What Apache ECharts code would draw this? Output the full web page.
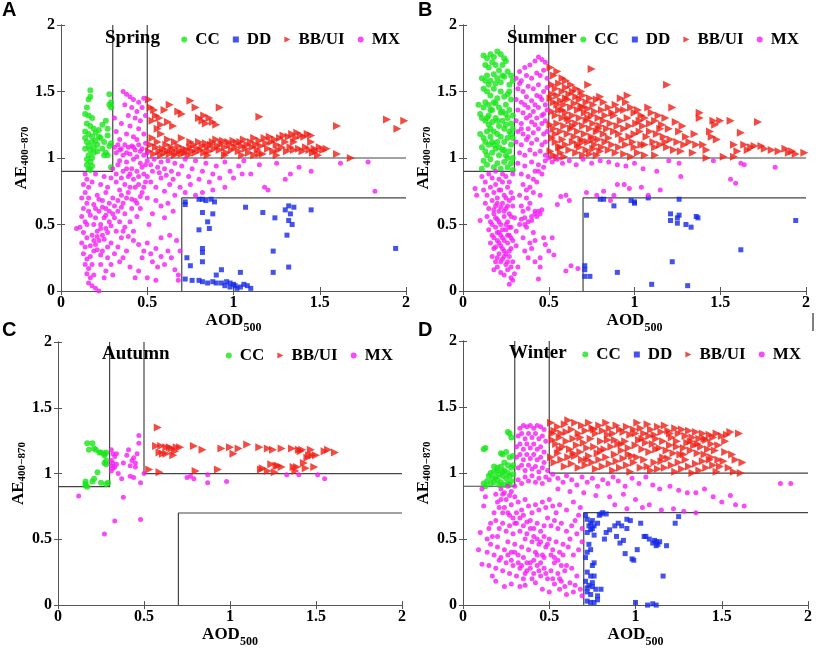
<!DOCTYPE html>
<html>
<head>
<meta charset="utf-8">
<script src="https://cdn.jsdelivr.net/npm/echarts@6/dist/echarts.min.js"></script>
<style>
  html, body { margin: 0; padding: 0; background: #fff; }
  #chart { width: 816px; height: 649px; }
</style>
</head>
<body>
<div id="chart"></div>
<script>
// -- Data: [AOD500, AE400-870] --
const springCC = [[0.17,1.51],[0.17,1.46],[0.16,1.44],[0.15,1.38],[0.14,1.33],[0.16,1.32],[0.18,1.30],[0.15,1.26],[0.17,1.24],[0.19,1.22],[0.14,1.20],[0.16,1.18],[0.18,1.16],[0.20,1.19],[0.22,1.21],[0.24,1.25],[0.26,1.28],[0.27,1.22],[0.28,1.40],[0.29,1.42],[0.28,1.48],[0.29,1.38],[0.27,1.17],[0.25,1.12],[0.23,1.15],[0.21,1.10],[0.19,1.08],[0.17,1.06],[0.15,1.12],[0.14,1.07],[0.16,1.02],[0.18,1.00],[0.17,0.97],[0.15,0.95],[0.16,0.92],[0.18,0.94],[0.19,1.04],[0.21,1.05],[0.24,1.07],[0.26,1.04],[0.28,1.09],[0.29,1.11],[0.27,1.02],[0.22,1.16],[0.20,1.13],[0.15,0.99],[0.14,1.15],[0.18,1.12],[0.16,1.09],[0.17,0.91],[0.25,1.02],[0.29,0.93]];
const springDD = [[0.72,0.67],[0.72,0.65],[0.8,0.69],[0.82,0.69],[0.84,0.68],[0.87,0.69],[0.89,0.67],[0.82,0.59],[0.88,0.58],[0.85,0.52],[0.8,0.46],[0.86,0.47],[1.07,0.63],[1.17,0.59],[1.24,0.55],[1.3,0.61],[1.32,0.64],[1.35,0.63],[1.33,0.58],[1.32,0.53],[1.34,0.5],[1.31,0.42],[1.45,0.61],[1.94,0.32],[0.82,0.32],[0.82,0.29],[0.73,0.25],[0.75,0.19],[0.82,0.22],[0.93,0.16],[0.9,0.12],[1.04,0.14],[1.23,0.3],[1.23,0.14],[1.32,0.18],[0.72,0.09],[0.76,0.08],[0.8,0.08],[0.82,0.07],[0.85,0.06],[0.88,0.07],[0.9,0.06],[0.93,0.06],[0.96,0.07],[0.98,0.06],[1.0,0.05],[0.98,0.03],[1.02,0.02],[1.04,0.03],[1.06,0.05],[1.08,0.04],[1.1,0.02],[1.01,0.04],[0.95,0.04]];
const springBB = [[0.51,1.44],[0.52,1.38],[0.54,1.36],[0.55,1.32],[0.53,1.28],[0.57,1.3],[0.6,1.36],[0.63,1.4],[0.58,1.25],[0.62,1.27],[0.56,1.22],[0.65,1.24],[0.68,1.35],[0.7,1.33],[0.75,1.43],[0.78,1.38],[0.8,1.3],[0.82,1.28],[0.84,1.26],[0.86,1.3],[0.88,1.27],[0.9,1.25],[0.92,1.38],[0.83,1.32],[1.15,1.31],[1.6,1.24],[1.89,1.29],[1.95,1.22],[1.99,1.28],
  [0.51,1.05],[0.52,1.1],[0.53,1.15],[0.54,1.03],[0.55,1.08],[0.56,1.12],[0.57,1.05],[0.58,1.02],[0.59,1.07],[0.6,1.04],[0.61,1.1],[0.62,1.05],[0.63,1.03],[0.64,1.08],[0.65,1.06],[0.66,1.02],[0.67,1.04],[0.68,1.09],[0.69,1.05],[0.7,1.03],[0.71,1.07],[0.72,1.04],[0.73,1.06],[0.74,1.02],[0.75,1.08],[0.76,1.05],[0.77,1.1],[0.78,1.04],[0.79,1.07],[0.8,1.12],[0.81,1.06],[0.82,1.09],[0.83,1.04],[0.84,1.11],[0.85,1.08],[0.86,1.05],[0.87,1.1],[0.88,1.12],[0.89,1.07],[0.9,1.14],[0.91,1.09],[0.92,1.06],[0.93,1.11],[0.94,1.13],[0.95,1.08],[0.96,1.04],[0.97,1.12],[0.98,1.1],[0.99,1.06],[1.0,1.13],[1.01,1.08],[1.02,1.11],[1.03,1.05],[1.04,1.12],[1.05,1.09],[1.06,1.14],[1.07,1.07],[1.08,1.1],[1.09,1.04],[1.1,1.12],[1.11,1.08],[1.12,1.15],[1.13,1.1],[1.14,1.06],[1.15,1.13],[1.16,1.09],[1.17,1.03],[1.18,1.15],[1.19,1.11],[1.2,1.07],[1.21,1.16],[1.22,1.12],[1.23,1.05],[1.24,1.14],[1.25,1.1],[1.26,1.06],[1.27,1.15],[1.28,1.08],[1.29,1.17],[1.3,1.12],[1.31,1.05],[1.32,1.16],[1.33,1.08],[1.34,1.18],[1.35,1.06],[1.36,1.15],[1.37,1.19],[1.38,1.07],[1.39,1.17],[1.4,1.05],[1.41,1.16],[1.42,1.08],[1.43,1.18],[1.44,1.06],[1.45,1.17],[1.46,1.04],[1.47,1.07],[1.48,1.05],[1.5,1.08],[1.52,1.06],[1.54,1.07],[1.49,1.02],[1.6,1.03],[1.68,1.0],[0.7,1.15],[0.75,1.12],[0.62,1.14],[0.58,1.18],[0.66,1.12],[1.35,1.12],[1.25,1.02],[1.15,1.03],[1.05,1.02],[0.95,1.02],[0.85,1.02],[1.45,1.12],[1.12,1.02]];
const springMX = [[0.14,0.88],[0.15,0.84],[0.13,0.8],[0.16,0.78],[0.14,0.74],[0.12,0.7],[0.15,0.66],[0.13,0.62],[0.16,0.6],[0.12,0.56],[0.14,0.52],[0.11,0.48],[0.09,0.47],[0.13,0.44],[0.15,0.4],[0.12,0.36],[0.14,0.33],[0.13,0.28],[0.15,0.24],[0.14,0.2],[0.16,0.17],[0.15,0.13],[0.17,0.1],[0.16,0.06],[0.18,0.04],[0.2,0.02],[0.22,0.0],[0.19,0.12],[0.18,0.2],[0.17,0.26],[0.19,0.3],
  [0.2,0.35],[0.22,0.38],[0.18,0.42],[0.21,0.45],[0.24,0.42],[0.19,0.5],[0.23,0.5],[0.26,0.47],[0.2,0.55],[0.25,0.55],[0.28,0.52],[0.22,0.6],[0.26,0.62],[0.3,0.58],[0.19,0.65],[0.24,0.68],[0.28,0.66],[0.21,0.72],[0.26,0.74],[0.3,0.7],[0.18,0.82],[0.23,0.8],[0.27,0.78],[0.2,0.88],[0.25,0.86],[0.29,0.85],[0.32,0.82],[0.34,0.76],[0.31,0.64],[0.33,0.6],[0.36,0.66],[0.35,0.72],[0.38,0.7],[0.37,0.8],[0.4,0.78],[0.39,0.86],[0.42,0.84],[0.44,0.9],[0.41,0.92],[0.36,0.9],[0.33,0.95],[0.3,0.92],
  [0.24,0.3],[0.27,0.25],[0.23,0.2],[0.26,0.15],[0.29,0.2],[0.31,0.28],[0.34,0.22],[0.3,0.12],[0.25,0.1],[0.33,0.33],[0.36,0.25],[0.38,0.3],[0.35,0.4],[0.32,0.45],[0.37,0.48],[0.4,0.52],[0.42,0.45],[0.44,0.56],[0.46,0.62],[0.43,0.68],[0.47,0.74],[0.49,0.82],[0.45,0.8],[0.48,0.88],
  [0.42,0.38],[0.45,0.35],[0.48,0.3],[0.5,0.36],[0.47,0.25],[0.52,0.28],[0.55,0.32],[0.53,0.22],[0.58,0.26],[0.56,0.18],[0.6,0.2],[0.62,0.3],[0.64,0.25],[0.66,0.16],[0.68,0.12],[0.69,0.3],[0.67,0.38],[0.63,0.42],[0.58,0.4],[0.45,0.15],[0.4,0.18],[0.43,0.1],[0.5,0.1],[0.55,0.08],[0.68,0.08],
  [0.31,1.08],[0.33,1.1],[0.35,1.07],[0.37,1.1],[0.39,1.08],[0.41,1.09],[0.43,1.06],[0.45,1.1],[0.47,1.07],[0.49,1.11],[0.32,1.04],[0.36,1.02],[0.4,1.03],[0.44,1.01],[0.48,1.02],[0.34,0.98],[0.38,0.97],[0.42,0.99],[0.46,0.96],[0.5,0.98],[0.52,0.95],[0.54,0.99],[0.56,0.93],[0.58,0.97],[0.6,0.92],[0.62,0.98],[0.64,0.9],[0.66,0.96],[0.68,0.88],[0.7,0.94],[0.72,0.99],[0.74,0.86],[0.76,0.92],[0.78,0.98],[0.8,0.84],[0.82,0.9],[0.84,0.96],[0.86,0.82],[0.88,0.88],[0.9,0.94],[0.92,0.85],[0.95,0.97],[0.98,0.9],[1.0,0.85],[1.03,0.94],[1.06,0.98],
  [0.52,0.82],[0.55,0.78],[0.58,0.85],[0.6,0.75],[0.63,0.8],[0.66,0.72],[0.69,0.78],[0.72,0.74],[0.75,0.8],[0.78,0.72],[0.55,0.68],[0.58,0.64],[0.62,0.66],[0.65,0.6],[0.5,0.7],[0.53,0.58],[0.6,0.55],[0.51,0.5],
  [0.36,1.5],[0.38,1.48],[0.4,1.46],[0.42,1.44],[0.45,1.42],[0.48,1.45],[0.37,1.4],[0.41,1.38],[0.44,1.35],[0.47,1.38],[0.39,1.32],[0.43,1.3],[0.46,1.28],[0.49,1.32],[0.35,1.26],[0.4,1.24],[0.45,1.22],[0.32,1.2],[0.38,1.18],[0.42,1.16],[0.48,1.18],[0.34,1.14],[0.44,1.14],[0.31,1.3],
  [1.1,0.88],[1.15,0.95],[1.18,0.78],[1.2,0.76],[1.25,0.96],[1.3,0.84],[1.33,0.88],[1.38,0.93],[1.45,0.9],[1.62,0.96],[1.78,0.97],[1.82,0.75],[0.95,0.78],[1.05,0.88],[0.88,0.76],[0.82,0.74],
  [0.21,0.41],[0.23,0.47],[0.25,0.39],[0.27,0.44],[0.29,0.49],[0.31,0.55],[0.33,0.68],[0.35,0.63],[0.37,0.58],[0.39,0.74],[0.41,0.69],[0.43,0.78],[0.45,0.86],[0.47,0.93],[0.49,0.95],[0.38,0.92],[0.4,0.88],[0.35,0.85],[0.32,0.88],[0.28,0.6],[0.26,0.57],[0.24,0.63],[0.22,0.69],[0.2,0.62],[0.17,0.57],[0.19,0.38],[0.21,0.31],[0.23,0.27],[0.27,0.33],[0.29,0.36],[0.34,0.52],[0.36,0.45],[0.39,0.41],[0.41,0.62],[0.44,0.66],[0.46,0.71],[0.48,0.78],[0.5,0.86],[0.53,0.9],[0.57,0.89],[0.61,0.87],[0.65,0.84],[0.34,1.06],[0.38,1.04],[0.42,1.08],[0.46,1.05],[0.5,1.04],[0.16,0.7],[0.15,0.5],[0.17,0.34]];

const summerCC = [[0.12,1.77],[0.14,1.75],[0.16,1.78],[0.18,1.76],[0.2,1.8],[0.22,1.78],[0.24,1.75],[0.25,1.73],[0.13,1.7],[0.15,1.68],[0.17,1.72],[0.19,1.7],[0.21,1.66],[0.23,1.7],[0.26,1.65],[0.28,1.62],[0.29,1.58],[0.11,1.6],[0.14,1.62],[0.16,1.58],[0.18,1.63],[0.2,1.6],[0.22,1.57],[0.24,1.61],[0.27,1.55],[0.09,1.4],[0.1,1.33],[0.12,1.52],[0.14,1.5],[0.16,1.47],[0.18,1.52],[0.2,1.45],[0.22,1.5],[0.24,1.46],[0.26,1.48],[0.28,1.44],[0.13,1.42],[0.15,1.4],[0.17,1.36],[0.19,1.41],[0.21,1.38],[0.23,1.35],[0.25,1.4],[0.27,1.36],[0.29,1.32],[0.11,1.3],[0.13,1.28],[0.15,1.32],[0.17,1.27],[0.19,1.3],[0.21,1.24],[0.23,1.28],[0.25,1.25],[0.27,1.2],[0.29,1.22],[0.1,1.18],[0.12,1.15],[0.14,1.2],[0.16,1.16],[0.18,1.2],[0.2,1.12],[0.22,1.16],[0.24,1.12],[0.26,1.15],[0.28,1.1],[0.11,1.08],[0.13,1.05],[0.15,1.1],[0.17,1.04],[0.19,1.07],[0.21,1.02],[0.23,1.06],[0.25,1.02],[0.27,1.05],[0.29,1.0],[0.12,0.98],[0.14,0.95],[0.16,0.99],[0.18,0.93],[0.2,0.96],[0.22,0.92],[0.24,0.97],[0.26,0.93],[0.28,0.96],[0.11,0.92],[0.29,0.91],[0.15,1.25],[0.25,1.33],[0.27,1.5],[0.12,1.38],[0.18,1.1],[0.29,1.15],[0.13,1.12],
  [0.14,1.3],[0.16,1.36],[0.18,1.42],[0.2,1.28],[0.22,1.34],[0.24,1.22],[0.26,1.3],[0.28,1.26],[0.13,1.58],[0.15,1.55],[0.19,1.56],[0.23,1.62],[0.16,1.22],[0.2,1.18],[0.24,1.06],[0.28,1.18],[0.14,1.02],[0.26,1.0],[0.17,1.12],[0.21,1.08]];
const summerDD = [[0.72,0.57],[0.8,0.69],[0.82,0.69],[0.88,0.64],[0.98,0.68],[1.0,0.67],[1.0,0.66],[1.08,0.7],[1.26,0.69],[1.21,0.58],[1.21,0.53],[1.25,0.55],[1.26,0.57],[1.25,0.51],[1.3,0.5],[1.33,0.48],[1.36,0.56],[1.37,0.55],[1.94,0.53],[1.62,0.31],[1.22,0.22],[0.71,0.19],[0.71,0.16],[0.71,0.11],[0.74,0.11],[0.9,0.14],[1.1,0.05],[1.31,0.04]];
const summerBB = [[0.51,1.68],[0.53,1.62],[0.55,1.65],[0.58,1.6],[0.6,1.58],[0.52,1.55],[0.54,1.52],[0.56,1.56],[0.58,1.5],[0.6,1.53],[0.62,1.48],[0.64,1.5],[0.66,1.46],[0.68,1.44],[0.7,1.47],[0.72,1.42],[0.74,1.45],[0.76,1.4],[0.78,1.44],[0.8,1.46],[0.82,1.42],[0.73,1.55],[0.75,1.67],[0.51,1.45],[0.53,1.42],[0.55,1.47],[0.57,1.43],[0.59,1.4],[0.61,1.44],[0.63,1.38],[0.65,1.41],[0.67,1.36],[0.69,1.39],[0.71,1.34],[0.73,1.37],[0.75,1.32],[0.77,1.35],[0.79,1.3],[0.81,1.36],[0.83,1.32],[0.85,1.38],[0.87,1.34],[0.89,1.4],[0.91,1.36],[0.52,1.35],[0.54,1.32],[0.56,1.36],[0.58,1.3],[0.6,1.34],[0.62,1.28],[0.64,1.32],[0.66,1.26],[0.68,1.3],[0.7,1.24],[0.72,1.28],[0.74,1.22],[0.76,1.26],[0.78,1.2],[0.8,1.24],[0.82,1.18],[0.84,1.22],[0.86,1.26],[0.88,1.2],[0.9,1.24],[0.92,1.28],[0.94,1.22],[0.96,1.3],[0.51,1.25],[0.53,1.22],[0.55,1.26],[0.57,1.2],[0.59,1.24],[0.61,1.18],[0.63,1.22],[0.65,1.16],[0.67,1.2],[0.69,1.14],[0.71,1.18],[0.73,1.12],[0.75,1.16],[0.77,1.1],[0.79,1.14],[0.81,1.08],[0.83,1.12],[0.85,1.06],[0.87,1.1],[0.89,1.04],[0.91,1.08],[0.93,1.14],[0.95,1.1],[0.97,1.16],[0.99,1.12],[0.52,1.15],[0.54,1.12],[0.56,1.08],[0.58,1.14],[0.6,1.1],[0.62,1.06],[0.64,1.12],[0.66,1.04],[0.68,1.08],[0.7,1.02],[0.72,1.06],[0.74,1.03],[0.76,1.07],[0.78,1.02],[0.8,1.05],[0.51,1.05],[0.53,1.02],[0.55,1.0],[0.57,1.04],[0.59,1.01],
  [0.92,1.45],[0.95,1.42],[0.98,1.38],[1.0,1.34],[1.02,1.36],[1.04,1.32],[1.06,1.3],[1.08,1.38],[1.1,1.34],[1.12,1.28],[1.14,1.32],[1.16,1.25],[1.18,1.3],[1.2,1.22],[1.22,1.38],[1.24,1.27],[1.26,1.2],[1.28,1.24],[1.19,1.55],[0.96,1.47],[1.01,1.26],[1.03,1.2],[1.05,1.24],[1.07,1.16],[1.09,1.2],[1.11,1.12],[1.13,1.18],[1.15,1.1],[1.17,1.16],[1.19,1.08],[1.21,1.14],[1.23,1.06],[1.25,1.12],[1.27,1.05],[1.29,1.1],[1.0,1.08],[1.02,1.04],[1.04,1.1],[1.06,1.02],[0.94,1.03],[0.98,1.01],[1.12,1.02],[1.3,1.16],
  [1.32,1.12],[1.34,1.04],[1.36,1.1],[1.38,1.34],[1.38,1.3],[1.4,1.1],[1.42,1.06],[1.44,1.2],[1.46,1.28],[1.47,1.25],[1.5,1.28],[1.45,1.16],[1.48,1.14],[1.52,1.01],[1.56,1.28],[1.58,1.1],[1.6,1.05],[1.62,1.19],[1.64,1.1],[1.66,1.06],[1.68,1.08],[1.72,1.27],[1.74,1.09],[1.76,1.07],[1.8,1.06],[1.84,1.05],[1.88,1.07],[1.9,1.04],[1.92,1.05],[1.94,1.03],[1.99,1.04],[1.58,1.01],[1.7,1.09],[1.35,1.18],[1.42,1.0],
  [0.52,1.48],[0.55,1.4],[0.58,1.36],[0.61,1.3],[0.64,1.24],[0.67,1.1],[0.7,1.38],[0.73,1.3],[0.76,1.14],[0.79,1.22],[0.82,1.28],[0.85,1.15],[0.88,1.32],[0.91,1.18],[0.94,1.36],[0.97,1.24],[1.0,1.18],[1.03,1.28],[1.06,1.1],[1.09,1.26],[1.12,1.08],[1.15,1.22],[1.18,1.12],[0.54,1.18],[0.57,1.08],[0.6,1.45],[0.63,1.55],[0.66,1.52],[0.69,1.5],[0.7,1.12]];
const summerMX = [[0.33,1.65],[0.36,1.68],[0.39,1.7],[0.42,1.73],[0.44,1.76],[0.46,1.74],[0.48,1.72],[0.31,1.6],[0.34,1.58],[0.37,1.62],[0.4,1.6],[0.43,1.64],[0.45,1.62],[0.47,1.66],[0.49,1.6],[0.32,1.52],[0.35,1.5],[0.38,1.54],[0.41,1.52],[0.44,1.55],[0.47,1.5],[0.49,1.53],[0.31,1.44],[0.34,1.42],[0.37,1.46],[0.4,1.43],[0.43,1.47],[0.46,1.44],[0.48,1.4],[0.32,1.36],[0.35,1.34],[0.38,1.38],[0.41,1.35],[0.44,1.38],[0.47,1.33],[0.49,1.36],[0.31,1.28],[0.34,1.26],[0.37,1.3],[0.4,1.27],[0.43,1.3],[0.46,1.26],[0.48,1.28],[0.32,1.2],[0.35,1.18],[0.38,1.22],[0.41,1.19],[0.44,1.22],[0.47,1.18],[0.49,1.2],[0.31,1.12],[0.34,1.1],[0.37,1.14],[0.4,1.11],[0.43,1.14],[0.46,1.1],[0.48,1.12],[0.33,1.04],[0.36,1.02],[0.39,1.06],[0.42,1.03],[0.45,1.05],[0.48,1.02],[0.5,1.0],
  [0.32,0.96],[0.36,0.94],[0.4,0.97],[0.44,0.95],[0.48,0.98],[0.52,0.97],[0.55,0.99],[0.58,0.96],[0.62,0.98],[0.66,0.95],[0.7,0.99],[0.75,0.96],[0.8,0.98],[0.85,0.97],[0.9,0.95],[0.95,0.94],[0.34,0.88],[0.38,0.86],[0.42,0.9],[0.46,0.88],[0.35,0.8],[0.39,0.78],[0.43,0.82],[0.33,0.72],[0.37,0.7],[0.41,0.74],[0.45,0.72],[0.34,0.64],[0.38,0.62],[0.42,0.6],[0.45,0.58],[0.36,0.55],[0.4,0.53],[0.43,0.56],[0.33,0.5],[0.37,0.48],[0.41,0.44],[0.35,0.4],[0.39,0.36],[0.42,0.38],[0.36,0.3],[0.4,0.32],[0.38,0.25],[0.42,0.22],[0.45,0.18],[0.44,0.09],[0.47,0.4],[0.48,0.35],[0.45,0.25],
  [0.07,0.77],[0.08,0.72],[0.1,0.53],[0.11,0.86],[0.13,0.82],[0.15,0.88],[0.17,0.85],[0.19,0.9],[0.21,0.84],[0.23,0.88],[0.25,0.86],[0.27,0.82],[0.29,0.88],[0.12,0.76],[0.14,0.72],[0.16,0.78],[0.18,0.74],[0.2,0.7],[0.22,0.76],[0.24,0.72],[0.26,0.78],[0.28,0.74],[0.13,0.66],[0.15,0.62],[0.17,0.68],[0.19,0.64],[0.21,0.6],[0.23,0.66],[0.25,0.62],[0.27,0.58],[0.29,0.64],[0.14,0.56],[0.16,0.52],[0.18,0.58],[0.2,0.54],[0.22,0.5],[0.24,0.56],[0.26,0.52],[0.28,0.48],[0.3,0.55],[0.15,0.46],[0.17,0.42],[0.19,0.48],[0.21,0.44],[0.23,0.4],[0.25,0.46],[0.27,0.42],[0.29,0.38],[0.16,0.36],[0.18,0.32],[0.2,0.38],[0.22,0.34],[0.24,0.3],[0.26,0.36],[0.28,0.32],[0.17,0.26],[0.19,0.22],[0.21,0.28],[0.23,0.24],[0.25,0.2],[0.27,0.26],[0.29,0.22],[0.18,0.16],[0.2,0.18],[0.22,0.14],[0.24,0.12],[0.26,0.16],[0.28,0.1],[0.3,0.13],[0.27,0.05],[0.29,0.08],[0.32,0.18],[0.31,0.34],[0.31,0.45],
  [0.57,0.71],[0.6,0.72],[0.55,0.65],[0.62,0.68],[0.52,0.4],[0.5,0.3],[0.53,0.27],[0.6,0.15],[0.63,0.19],[0.67,0.17],[0.72,0.74],[0.78,0.72],[0.82,0.75],[0.9,0.8],[0.94,0.8],[0.88,0.72],[0.86,0.68],[0.97,0.77],[1.04,0.78],[1.08,0.72],[1.15,0.76],[1.05,0.92],[1.13,0.9],[1.27,0.86],[1.26,0.96],[1.46,0.98],[1.56,0.84],[1.59,0.81],[1.62,0.96],[1.64,0.95],[1.82,0.93],[1.0,0.96],[1.2,0.98],
  [0.19,0.8],[0.21,0.76],[0.23,0.82],[0.25,0.7],[0.27,0.68],[0.29,0.7],[0.18,0.61],[0.2,0.66],[0.22,0.63],[0.24,0.6],[0.26,0.64],[0.28,0.56],[0.17,0.5],[0.19,0.55],[0.21,0.52],[0.23,0.46],[0.25,0.5],[0.27,0.48],[0.18,0.4],[0.2,0.44],[0.22,0.42],[0.24,0.38],[0.26,0.42],[0.28,0.4],[0.19,0.33],[0.21,0.36],[0.23,0.32],[0.25,0.28],[0.27,0.3],[0.2,0.25],[0.22,0.22],[0.24,0.26],[0.26,0.22],[0.28,0.18],[0.34,0.54],[0.36,0.5],[0.38,0.52],[0.4,0.56],[0.42,0.58],[0.44,0.6],[0.46,0.61],[0.35,0.6],[0.39,0.66],[0.37,0.76],[0.41,0.84],[0.44,0.9],[0.47,0.93],[0.33,1.56],[0.36,1.4],[0.39,1.32],[0.42,1.4],[0.45,1.46],[0.34,1.22],[0.38,1.16],[0.42,1.25],[0.46,1.32]];

const autumnCC = [[0.17,1.23],[0.2,1.23],[0.18,1.18],[0.21,1.19],[0.22,1.18],[0.24,1.16],[0.25,1.16],[0.27,1.15],[0.28,1.16],[0.27,1.14],[0.28,1.1],[0.27,1.08],[0.28,1.07],[0.23,1.01],[0.16,0.94],[0.16,0.92],[0.2,0.94],[0.21,0.96],[0.25,0.93],[0.28,0.92],[0.29,0.93],[0.16,0.91],[0.17,0.9]];
const autumnBB = [[0.58,1.35],[0.53,1.03],[0.57,1.21],[0.6,1.21],[0.59,1.16],[0.61,1.15],[0.63,1.15],[0.63,1.2],[0.65,1.2],[0.66,1.19],[0.67,1.14],[0.68,1.17],[0.69,1.2],[0.71,1.2],[0.59,1.01],[0.79,1.21],[0.8,1.02],[0.84,1.18],[0.93,1.03],[0.95,1.19],[1.0,1.2],[1.02,1.15],[1.05,1.19],[1.1,1.22],[1.17,1.2],[1.18,1.03],[1.19,1.04],[1.22,1.02],[1.22,1.19],[1.24,1.07],[1.25,1.18],[1.27,1.06],[1.26,1.01],[1.28,1.06],[1.3,1.05],[1.3,1.19],[1.36,1.19],[1.37,1.05],[1.38,1.02],[1.39,1.05],[1.4,1.18],[1.41,1.17],[1.42,1.18],[1.43,1.08],[1.44,1.04],[1.45,1.12],[1.46,1.14],[1.47,1.18],[1.48,1.14],[1.49,1.05],[1.5,1.14],[1.55,1.17],[1.57,1.18],[1.61,1.16]];
const autumnMX = [[0.12,0.83],[0.27,0.54],[0.33,0.64],[0.48,0.65],[0.38,0.82],[0.31,1.18],[0.32,1.15],[0.33,1.13],[0.31,1.1],[0.32,1.08],[0.31,1.06],[0.32,1.04],[0.33,1.05],[0.34,1.07],[0.31,1.02],[0.34,1.15],[0.35,1.0],[0.37,0.96],[0.38,1.08],[0.4,1.14],[0.41,1.18],[0.42,1.06],[0.43,1.1],[0.44,1.12],[0.45,1.05],[0.45,1.08],[0.46,1.15],[0.47,1.23],[0.47,1.29],[0.48,0.93],[0.42,0.98],[0.44,0.97],[0.5,1.0],[0.75,0.97],[0.77,0.98],[0.79,0.96],[0.87,0.99],[0.87,0.93],[0.98,0.94],[1.33,0.99],[1.4,0.99],[1.51,0.99],[1.55,0.96]];

const winterCC = [[0.12,1.18],[0.13,1.19],[0.26,1.31],[0.27,1.3],[0.28,1.27],[0.22,1.15],[0.23,1.14],[0.25,1.16],[0.27,1.12],[0.29,1.13],[0.24,1.08],[0.26,1.06],[0.28,1.04],[0.22,1.05],[0.2,1.02],[0.18,1.01],[0.16,1.0],[0.15,0.98],[0.17,0.96],[0.19,0.97],[0.21,0.99],[0.23,0.98],[0.25,0.96],[0.27,0.98],[0.29,0.99],[0.14,0.94],[0.16,0.92],[0.18,0.93],[0.2,0.95],[0.22,0.93],[0.24,0.91],[0.26,0.92],[0.28,0.94],[0.12,0.92],[0.13,0.9],[0.2,1.04],[0.24,1.02],[0.29,1.06],[0.18,1.05],[0.21,0.91],[0.27,0.91],[0.23,1.01],[0.26,1.0]];
const winterDD = [[0.71,0.68],[0.72,0.65],[0.73,0.6],[0.74,0.62],[0.75,0.64],[0.76,0.6],[0.78,0.62],[0.8,0.69],[0.81,0.7],[0.79,0.68],[0.83,0.69],[0.72,0.55],[0.74,0.57],[0.76,0.53],[0.75,0.58],[0.73,0.46],[0.72,0.4],[0.74,0.42],[0.71,0.36],[0.75,0.3],[0.76,0.32],[0.72,0.25],[0.74,0.22],[0.76,0.22],[0.71,0.18],[0.73,0.15],[0.75,0.14],[0.77,0.12],[0.8,0.12],[0.72,0.1],[0.74,0.08],[0.78,0.07],[0.72,0.03],[0.74,0.02],[0.76,0.02],[0.78,0.04],[0.75,0.17],[0.72,0.13],[0.82,0.5],[0.83,0.55],[0.85,0.57],[0.88,0.6],[0.9,0.62],[0.92,0.6],[0.91,0.47],[0.93,0.49],[0.94,0.39],[0.95,0.65],[0.97,0.64],[0.98,0.35],[0.99,0.34],[1.01,0.42],[1.03,0.62],[1.05,0.52],[1.06,0.52],[1.08,0.5],[1.1,0.47],[1.11,0.49],[1.12,0.48],[1.13,0.46],[1.14,0.48],[1.12,0.45],[1.16,0.22],[1.18,0.45],[1.23,0.62],[1.25,0.67],[1.0,0.02],[1.07,0.0],[1.1,0.01],[1.12,0.0],[0.89,0.52],[0.95,0.58]];
const winterBB = [[0.51,1.38],[0.53,1.32],[0.55,1.35],[0.57,1.3],[0.59,1.37],[0.61,1.4],[0.63,1.33],[0.65,1.38],[0.67,1.3],[0.69,1.36],[0.71,1.32],[0.73,1.38],[0.75,1.34],[0.77,1.3],[0.79,1.36],[0.81,1.32],[0.83,1.38],[0.85,1.34],[0.87,1.3],[0.89,1.36],[0.91,1.33],[0.93,1.31],[0.95,1.35],[0.97,1.29],[0.99,1.33],[1.01,1.38],[1.03,1.34],[1.05,1.3],[1.07,1.37],[1.09,1.33],[1.11,1.29],[1.13,1.35],[1.15,1.31],[1.17,1.36],[1.19,1.32],[1.21,1.27],[1.23,1.34],[1.25,1.3],[1.27,1.33],[1.29,1.28],[1.31,1.32],[1.33,1.27],[1.35,1.31],[1.37,1.26],[1.39,1.3],[1.41,1.25],[1.43,1.29],[1.45,1.27],[1.47,1.3],[1.5,1.28],[1.53,1.29],[1.55,1.31],[1.6,1.3],
  [0.52,1.25],[0.54,1.22],[0.56,1.27],[0.58,1.2],[0.6,1.24],[0.62,1.18],[0.64,1.26],[0.66,1.21],[0.68,1.16],[0.7,1.23],[0.72,1.19],[0.74,1.26],[0.76,1.2],[0.78,1.15],[0.8,1.24],[0.82,1.18],[0.84,1.25],[0.86,1.2],[0.88,1.14],[0.9,1.22],[0.92,1.17],[0.94,1.24],[0.96,1.19],[0.98,1.13],[1.0,1.21],[1.02,1.25],[1.04,1.18],[1.06,1.23],[1.08,1.16],[1.1,1.22],[1.12,1.26],[1.14,1.19],[1.16,1.24],[1.18,1.17],[1.2,1.21],[1.22,1.15],[1.24,1.2],[1.26,1.14],[1.28,1.19],[1.3,1.23],[1.32,1.17],[1.34,1.21],[1.36,1.15],[1.38,1.2],[1.4,1.14],[1.42,1.18],[1.44,1.12],[1.46,1.17],[1.48,1.21],[1.52,1.16],[1.56,1.14],[1.58,1.1],
  [0.51,1.12],[0.53,1.08],[0.55,1.15],[0.57,1.1],[0.59,1.05],[0.61,1.12],[0.63,1.07],[0.65,1.13],[0.67,1.04],[0.69,1.1],[0.71,1.06],[0.73,1.13],[0.75,1.08],[0.77,1.03],[0.79,1.1],[0.81,1.05],[0.83,1.12],[0.85,1.07],[0.87,1.02],[0.89,1.09],[0.91,1.04],[0.93,1.11],[0.95,1.06],[0.97,1.01],[0.99,1.08],[1.01,1.12],[1.03,1.04],[1.05,1.1],[1.07,1.05],[1.09,1.02],[1.11,1.08],[1.13,1.03],[1.15,1.09],[1.17,1.04],[1.19,1.11],[1.21,1.06],[1.23,1.01],[1.25,1.08],[1.27,1.03],[1.29,1.1],[1.31,1.05],[1.33,1.0],[1.35,1.07],[1.37,1.02],[1.39,1.09],[1.41,1.04],[1.43,1.1],[1.45,1.06],[1.47,1.01],[1.49,1.05],[1.51,1.09],[1.54,1.04],[1.57,1.01],[1.62,1.08],[1.61,1.0],
  [0.52,1.3],[0.56,1.18],[0.6,1.31],[0.64,1.15],[0.68,1.27],[0.72,1.1],[0.76,1.33],[0.8,1.17],[0.84,1.29],[0.88,1.25],[0.92,1.22],[0.96,1.14],[1.0,1.3],[1.04,1.26],[1.08,1.28],[1.12,1.18],[1.16,1.12],[1.2,1.3],[1.24,1.24],[1.28,1.14],[1.32,1.24],[1.36,1.22],[1.4,1.26],[1.44,1.22],[1.48,1.1],[1.52,1.24]];
const winterMX = [[0.33,1.34],[0.35,1.36],[0.37,1.35],[0.39,1.36],[0.41,1.34],[0.43,1.36],[0.45,1.35],[0.47,1.33],[0.32,1.28],[0.34,1.3],[0.36,1.26],[0.38,1.3],[0.4,1.27],[0.42,1.3],[0.44,1.26],[0.46,1.28],[0.48,1.24],[0.31,1.2],[0.33,1.22],[0.35,1.18],[0.37,1.22],[0.39,1.19],[0.41,1.22],[0.43,1.18],[0.45,1.2],[0.47,1.16],[0.31,1.12],[0.33,1.14],[0.35,1.1],[0.37,1.14],[0.39,1.11],[0.41,1.14],[0.43,1.1],[0.45,1.12],[0.47,1.08],[0.32,1.04],[0.34,1.06],[0.36,1.02],[0.38,1.06],[0.4,1.03],[0.42,1.05],[0.44,1.01],[0.46,1.04],[0.49,1.02],
  [0.22,0.88],[0.24,0.85],[0.26,0.9],[0.28,0.86],[0.3,0.9],[0.32,0.95],[0.34,0.92],[0.36,0.97],[0.38,0.94],[0.4,0.98],[0.42,0.93],[0.44,0.96],[0.46,0.92],[0.48,0.97],[0.5,0.95],[0.52,0.99],[0.55,0.96],[0.58,0.93],[0.6,0.98],[0.63,0.95],[0.66,0.91],[0.69,0.97],[0.72,0.93],[0.75,0.96],[0.78,0.9],[0.81,0.95],[0.84,0.92],[0.87,0.97],[0.9,0.94],[0.94,0.9],[0.98,0.96],[1.02,0.92],[1.06,0.97],[1.1,0.91],[1.14,0.88],[1.2,0.9],[1.25,0.87],[1.3,0.85],[1.35,0.85],[1.4,0.88],[1.45,0.82],[1.5,0.78],[1.55,0.83],[1.58,0.76],[1.63,0.75],[1.84,0.92],[1.9,0.92],[0.55,0.88],[0.62,0.86],[0.7,0.85],[0.77,0.83],[0.85,0.82],[0.93,0.84],[1.0,0.8],[1.08,0.76],[1.15,0.72],[1.22,0.73],[1.28,0.71],[1.35,0.7],[0.95,0.73],[0.88,0.76],[1.04,0.74],
  [0.11,0.88],[0.13,0.82],[0.12,0.75],[0.1,0.55],[0.09,0.42],[0.11,0.31],[0.14,0.5],[0.16,0.62],[0.18,0.7],[0.2,0.78],[0.22,0.8],[0.24,0.74],[0.26,0.7],[0.28,0.76],[0.3,0.82],[0.32,0.78],[0.34,0.72],[0.36,0.8],[0.38,0.75],[0.4,0.7],[0.42,0.76],[0.44,0.72],[0.46,0.78],[0.48,0.74],[0.5,0.8],[0.52,0.75],[0.54,0.7],[0.56,0.76],[0.6,0.72],[0.64,0.78],[0.68,0.74],
  [0.15,0.58],[0.17,0.52],[0.19,0.64],[0.21,0.58],[0.23,0.62],[0.25,0.56],[0.27,0.6],[0.29,0.54],[0.31,0.62],[0.33,0.56],[0.35,0.6],[0.37,0.54],[0.39,0.64],[0.41,0.58],[0.43,0.62],[0.45,0.56],[0.47,0.6],[0.49,0.66],[0.51,0.6],[0.53,0.64],[0.55,0.58],[0.57,0.62],[0.6,0.56],[0.63,0.6],[0.66,0.54],[0.69,0.58],
  [0.14,0.4],[0.16,0.46],[0.18,0.38],[0.2,0.44],[0.22,0.36],[0.24,0.42],[0.26,0.48],[0.28,0.4],[0.3,0.46],[0.32,0.38],[0.34,0.44],[0.36,0.5],[0.38,0.42],[0.4,0.48],[0.42,0.4],[0.44,0.46],[0.46,0.38],[0.48,0.44],[0.5,0.5],[0.52,0.42],[0.54,0.48],[0.56,0.4],[0.58,0.46],[0.61,0.44],[0.64,0.38],[0.67,0.42],[0.69,0.48],
  [0.15,0.3],[0.17,0.22],[0.19,0.28],[0.21,0.34],[0.23,0.26],[0.25,0.32],[0.27,0.24],[0.29,0.3],[0.31,0.22],[0.33,0.28],[0.35,0.2],[0.37,0.26],[0.39,0.32],[0.41,0.24],[0.43,0.3],[0.45,0.22],[0.47,0.28],[0.49,0.2],[0.51,0.26],[0.53,0.32],[0.55,0.24],[0.57,0.18],[0.59,0.14],[0.62,0.17],[0.65,0.15],[0.68,0.12],[0.66,0.22],[0.63,0.28],[0.6,0.3],
  [0.19,0.18],[0.24,0.14],[0.28,0.16],[0.33,0.14],[0.36,0.15],[0.42,0.17],[0.46,0.12],[0.5,0.1],[0.53,0.16],[0.56,0.12],[0.64,0.1],[0.69,0.07],[0.6,0.08],
  [0.23,0.84],[0.25,0.8],[0.27,0.83],[0.21,0.74],[0.19,0.84],[0.29,0.66],[0.31,0.7],[0.33,0.66],[0.35,0.68],[0.37,0.63],[0.39,0.58],[0.41,0.52],[0.43,0.5],[0.45,0.48],[0.47,0.52],[0.49,0.46],[0.51,0.38],[0.53,0.36],[0.55,0.34],[0.57,0.3],[0.59,0.26],[0.35,0.36],[0.37,0.32],[0.39,0.28],[0.41,0.34],[0.43,0.38],[0.45,0.32],[0.47,0.36],[0.26,0.38],[0.28,0.34],[0.3,0.4],[0.32,0.32],[0.34,0.3],[0.36,0.24],[0.4,0.2],[0.44,0.26],[0.48,0.24],[0.52,0.2],[0.56,0.2],[0.58,0.38],[0.62,0.5],[0.65,0.64],[0.67,0.68],[0.3,0.62],[0.27,0.68],[0.23,0.7],[0.2,0.52]];

// Classification thresholds (drawn as the black guide lines)
const boxCC = [[0, 0.9], [0.3, 0.9], [0.3, 2]];
const boxBB = [[0.5, 2], [0.5, 1], [2, 1]];
const boxDD = [[0.7, 0], [0.7, 0.7], [2, 0.7]];

const seasonNames = ['Spring', 'Summer', 'Autumn', 'Winter'];
const panelLetters = ['A', 'B', 'C', 'D'];

// -- Styling --
const SERIF = 'Liberation Serif, Times New Roman, serif';
const COLORS = { CC: '#19e619', DD: '#1428e6', BB: '#f01e14', MX: '#f51ef5', line: '#444' };
const TRI_RIGHT = 'path://M0,0L10,5L0,10Z';

// panel boxes in px: [left, top, width, height]
const panels = [
  { grid: [61, 25, 345, 266], data: [springCC, springDD, springBB, springMX], legendRight: 416, nameX: 105, nameY: 40, letter: [2, 0] },
  { grid: [463, 25, 343, 266], data: [summerCC, summerDD, summerBB, summerMX], legendRight: 17, nameX: 507, nameY: 40, letter: [418, 0] },
  { grid: [58, 342, 344, 265], data: [autumnCC, null, autumnBB, autumnMX], legendRight: 423, nameX: 102, nameY: 356, letter: [2, 320] },
  { grid: [463, 341, 345, 266], data: [winterCC, winterDD, winterBB, winterMX], legendRight: 15, nameX: 509, nameY: 355, letter: [418, 320] }
];

const labelStyle = { fontFamily: SERIF, fontWeight: 'bold', fontSize: 16, color: '#000' };
const grids = [], xAxes = [], yAxes = [], series = [], legends = [], graphics = [];

panels.forEach((p, i) => {
  grids.push({ left: p.grid[0], top: p.grid[1], width: p.grid[2], height: p.grid[3] });
  const axBase = { type: 'value', min: 0, max: 2, interval: 0.5, gridIndex: i,
    splitLine: { show: false },
    axisLine: { show: true, lineStyle: { color: '#555', width: 1 } },
    axisTick: { show: true, inside: true, length: 4, lineStyle: { color: '#555' } } };
  xAxes.push(Object.assign({}, axBase, {
    position: 'bottom',
    axisLabel: Object.assign({ margin: 4 }, labelStyle),
    name: '{a|AOD}{s|500}', nameLocation: 'middle', nameGap: 17,
    nameTextStyle: { rich: {
      a: { fontFamily: SERIF, fontWeight: 'bold', fontSize: 17, color: '#000', verticalAlign: 'top' },
      s: { fontFamily: SERIF, fontWeight: 'bold', fontSize: 12, color: '#000', padding: [10, 0, 0, 0] } } }
  }));
  xAxes.push(Object.assign({}, axBase, { position: 'top', axisLabel: { show: false } }));
  yAxes.push(Object.assign({}, axBase, {
    position: 'left',
    axisLabel: Object.assign({ margin: 6 }, labelStyle),
    name: '{a|AE}{s|400−870}', nameLocation: 'middle', nameGap: 28,
    nameTextStyle: { rich: {
      a: { fontFamily: SERIF, fontWeight: 'bold', fontSize: 17, color: '#000' },
      s: { fontFamily: SERIF, fontWeight: 'bold', fontSize: 11, color: '#000', padding: [8, 0, 0, 0] } } }
  }));
  yAxes.push(Object.assign({}, axBase, { position: 'right', axisLabel: { show: false } }));

  const xi = i * 2, yi = i * 2;
  [boxCC, boxBB, boxDD].forEach(b => series.push({
    type: 'line', xAxisIndex: xi, yAxisIndex: yi, data: b, symbol: 'none', silent: true,
    lineStyle: { color: COLORS.line, width: 1.2 }, z: 1
  }));

  const [cc, dd, bb, mx] = p.data;
  series.push({ name: 'CC', type: 'scatter', xAxisIndex: xi, yAxisIndex: yi, data: cc,
    symbol: 'circle', symbolSize: 6, itemStyle: { color: COLORS.CC }, z: 3 });
  if (dd) series.push({ name: 'DD', type: 'scatter', xAxisIndex: xi, yAxisIndex: yi, data: dd,
    symbol: 'rect', symbolSize: 5, itemStyle: { color: COLORS.DD }, z: 3 });
  series.push({ name: 'BB/UI', type: 'scatter', xAxisIndex: xi, yAxisIndex: yi, data: bb,
    symbol: TRI_RIGHT, symbolSize: [8, 8], itemStyle: { color: COLORS.BB }, z: 3 });
  series.push({ name: 'MX', type: 'scatter', xAxisIndex: xi, yAxisIndex: yi, data: mx,
    symbol: 'circle', symbolSize: 5, itemStyle: { color: COLORS.MX }, z: 4 });

  const items = [{ name: 'CC', icon: 'circle' }];
  if (dd) items.push({ name: 'DD', icon: 'rect' });
  items.push({ name: 'BB/UI', icon: TRI_RIGHT }, { name: 'MX', icon: 'circle' });
  legends.push({
    data: items, right: p.legendRight, top: p.nameY - 9, orient: 'horizontal', padding: 0,
    itemWidth: 6, itemHeight: 6, itemGap: 13, selectedMode: false,
    textStyle: { fontFamily: SERIF, fontWeight: 'bold', fontSize: 17, color: '#000', padding: [0, 0, 0, 3] }
  });

  graphics.push({ type: 'text', left: p.nameX, top: p.nameY - 11, z: 10,
    style: { text: seasonNames[i], font: 'bold 19px ' + SERIF, fill: '#000' } });
  graphics.push({ type: 'text', left: p.letter[0], top: p.letter[1], z: 10,
    style: { text: panelLetters[i], font: 'bold 20px Liberation Sans, Arial, sans-serif', fill: '#000' } });
});
// stray tick mark at right edge of the original figure
graphics.push({ type: 'line', shape: { x1: 813, y1: 313, x2: 813, y2: 331 }, style: { stroke: '#000', lineWidth: 1 } });

const chart = echarts.init(document.getElementById('chart'), null, { renderer: 'canvas' });
chart.setOption({
  animation: false,
  backgroundColor: '#fff',
  grid: grids, xAxis: xAxes, yAxis: yAxes,
  legend: legends, series: series, graphic: graphics
});
</script>
</body>
</html>
